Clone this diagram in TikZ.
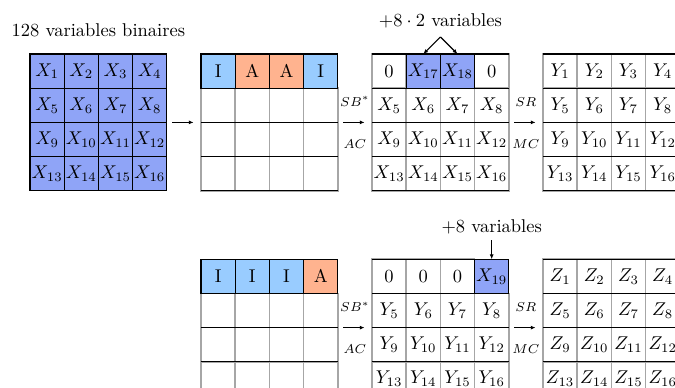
\documentclass[tikz,border=0pt]{standalone}
\usepackage{amsmath,amssymb}
\usepackage{xcolor}
\usepackage{tikz}
\usetikzlibrary{calc,arrows.meta}
\definecolor{varbleu}{RGB}{143,164,247}
\definecolor{clebleu}{RGB}{153,204,255}
\definecolor{cleorange}{RGB}{255,179,143}

\begin{document}
\begin{tikzpicture}[x=0.65cm, y=0.65cm, >={Latex[length=2.6pt,width=2.2pt]}, line width=0.6pt,
    case/.style={draw=gray!70, line width=0.8pt, minimum size=0.65cm, inner sep=0pt, outer sep=0pt},
    casev/.style={case, draw=black, line width=0.6pt, fill=varbleu},
    casei/.style={casev, fill=clebleu},
    casea/.style={casev, fill=cleorange},
    fleche/.style={->, shorten <=3pt, shorten >=4pt},
    etiq/.style={font=\scriptsize}]
    \useasboundingbox (-0.877,1.579) rectangle (18.86,-9.737);
    % cases blanches (lignes 2 a 4)
    \foreach \i in {5,...,16} {
        \pgfmathtruncatemacro\c{mod(\i-1,4)}
        \pgfmathtruncatemacro\r{div(\i-1,4)}
        \node[case] (ka-\i) at (5.5+\c,-0.5-\r) {};
        \node[case] (ma-\i) at (10.5+\c,-0.5-\r) {$X_{\i}$};
        \node[case] (kb-\i) at (5.5+\c,-6.5-\r) {};
        \node[case] (mb-\i) at (10.5+\c,-6.5-\r) {$Y_{\i}$};
    }
    % etats de sortie Y et Z
    \foreach \i in {1,...,16} {
        \pgfmathtruncatemacro\c{mod(\i-1,4)}
        \pgfmathtruncatemacro\r{div(\i-1,4)}
        \node[case] (ya-\i) at (15.5+\c,-0.5-\r) {$Y_{\i}$};
        \node[case] (za-\i) at (15.5+\c,-6.5-\r) {$Z_{\i}$};
    }
    \node[case] (ma-1) at (10.5,-0.5) {$0$};
    \node[case] (ma-4) at (13.5,-0.5) {$0$};
    \foreach \k in {1,2,3}
        \node[case] (mb-\k) at (9.5+\k,-6.5) {$0$};
    % traits horizontaux noirs
    \foreach \ox/\oy in {5/0,10/0,15/0,5/-6,10/-6,15/-6}
        \foreach \r in {0,...,4}
            \draw (\ox,\oy-\r) -- ++(4,0);
    % variables d'entree
    \foreach \i in {1,...,16} {
        \pgfmathtruncatemacro\c{mod(\i-1,4)}
        \pgfmathtruncatemacro\r{div(\i-1,4)}
        \node[casev] (in-\i) at (0.5+\c,-0.5-\r) {$X_{\i}$};
    }
    % ligne de cle (I = identite, A = affine)
    \foreach \s/\t [count=\k] in {casei/I,casea/A,casea/A,casei/I}
        \node[\s] (ka-\k) at (4.5+\k,-0.5) {\t};
    \foreach \s/\t [count=\k] in {casei/I,casei/I,casei/I,casea/A}
        \node[\s] (kb-\k) at (4.5+\k,-6.5) {\t};
    \node[casev] (ma-2) at (11.5,-0.5) {$X_{17}$};
    \node[casev] (ma-3) at (12.5,-0.5) {$X_{18}$};
    \node[casev] (mb-4) at (13.5,-6.5) {$X_{19}$};
    % textes
    \node[anchor=base] (titre) at (2,0.5) {128 variables binaires};
    \node[anchor=base] (plusa) at (12,0.79) {$+8\cdot 2$ variables};
    \coordinate (pic) at (12,0.5);
    \draw[->] (pic) -- (ma-2.north);
    \draw[->] (pic) -- (ma-3.north);
    \node[anchor=base] (plusb) at (13.5,-5.21) {$+8$ variables};
    \draw[->] (plusb.south) -- (mb-4.north);
    % fleches entre les etats
    \draw[fleche] (in-8.south east) -- (ka-5.south west);
    \draw[fleche] (ka-8.south east) -- node[etiq,above=5pt]{$SB^*$} node[etiq,below=5.5pt]{$AC$} (ma-5.south west);
    \draw[fleche] (ma-8.south east) -- node[etiq,above=5pt]{$SR$} node[etiq,below=5.5pt]{$MC$} (ya-5.south west);
    \draw[fleche] (kb-8.south east) -- node[etiq,above=5pt]{$SB^*$} node[etiq,below=5.5pt]{$AC$} (mb-5.south west);
    \draw[fleche] (mb-8.south east) -- node[etiq,above=5pt]{$SR$} node[etiq,below=5.5pt]{$MC$} (za-5.south west);
\end{tikzpicture}
\end{document}
